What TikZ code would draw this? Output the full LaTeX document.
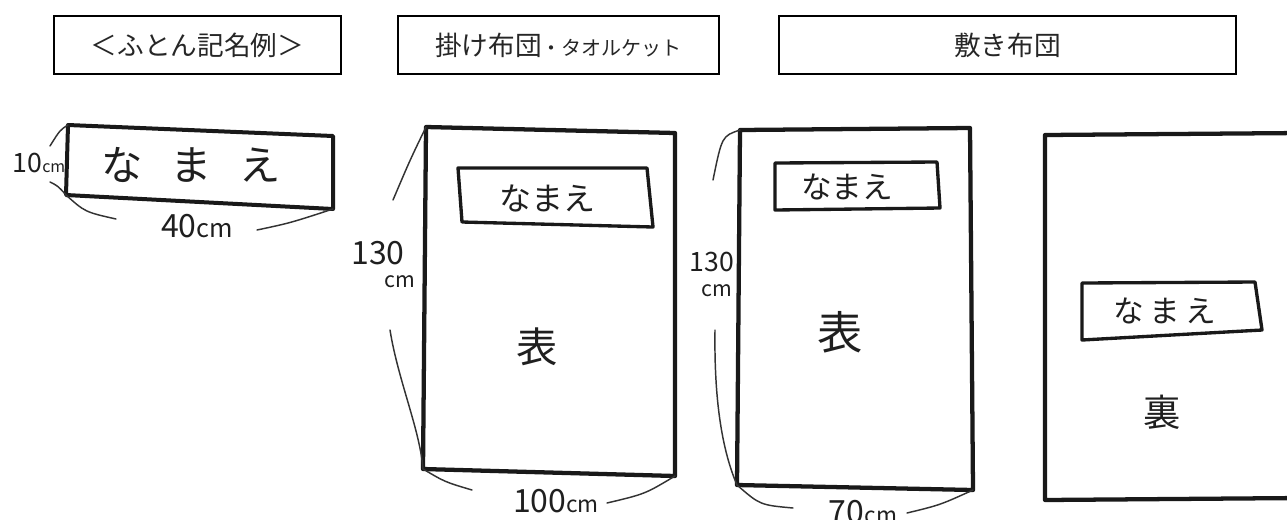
\documentclass[tikz,border=0pt]{standalone}
\usepackage{fontspec}
\setmainfont{Noto Sans CJK JP}
\newcommand{\fs}[1]{\fontsize{#1}{#1}\selectfont}
\begin{document}
\begin{tikzpicture}[x=0.75pt,y=-0.75pt,
  hdr/.style={draw=black, line width=0.9pt, minimum height=43.5pt, inner sep=0pt, font=\fs{20}, text=black!85},
  outl/.style={draw=black!90, line width=3.2pt, line join=round, line cap=round},
  tagl/.style={draw=black!90, line width=2.5pt, line join=round, line cap=round},
  diml/.style={draw=black!80, line width=1.1pt, line cap=round},
  hw/.style={inner sep=0pt, text=black!88}]
\clip (0,0) rectangle (1287,519);
\useasboundingbox (0,0) rectangle (1287,519);

% header boxes
\node[hdr, minimum width=215.25pt] (h1) at (197.5,45) {＜ふとん記名例＞\hspace{17pt}};
\node[hdr, minimum width=240.75pt] (h2) at (558.5,45) {掛け布団{\fs{15}・タオルケット}\hspace{6.75pt}};
\node[hdr, minimum width=342.75pt] (h3) at (1007.5,45) {敷き布団};

% ---------- small name tag ----------
\coordinate (s1) at (68,125);
\coordinate (s2) at (333,136);
\coordinate (s3) at (333,209);
\coordinate (s4) at (66,195);
\draw[outl, line width=3pt] (s1) -- (s2) -- (s3) -- (s4) -- cycle;
\node[hw, font=\fs{31}] (sn) at (191,165) {な\hspace{21pt}ま\hspace{21pt}え};
\node[hw, anchor=base] (s10) at (39,172) {{\fs{20}10}{\fs{12}cm}};
\node[hw, anchor=base] (s40) at (197,237) {{\fs{24}40}{\fs{19}cm}};
\coordinate (sa) at (50,146);
\coordinate (sb) at (50,182);
\coordinate (sc) at (116,219);
\coordinate (sd) at (257,230);
\draw[diml] (s1) .. controls (60,130) .. (sa);
\draw[diml] (sb) .. controls (58,186) .. (s4);
\draw[diml] (s4) .. controls (85,212) .. (sc);
\draw[diml] (sd) .. controls (290,223) .. (s3);

% ---------- kakebuton ----------
\coordinate (k1) at (426,127);
\coordinate (k2) at (675,133);
\coordinate (k3) at (675,476);
\coordinate (k4) at (423,469);
\draw[outl] (k1) -- (k2) -- (k3) -- (k4) -- cycle;
\coordinate (kt1) at (458,168);
\coordinate (kt2) at (647,168);
\coordinate (kt3) at (653,227);
\coordinate (kt4) at (462,222);
\draw[tagl] (kt1) -- (kt2) -- (kt3) -- (kt4) -- cycle;
\node[hw, font=\fs{24}] (kn) at (547,198) {なまえ};
\node[hw, font=\fs{31}] (ko) at (537,347) {表};
\node[hw, anchor=base] (k130) at (378,264) {\fs{24}130};
\node[hw, anchor=base] (kcm) at (400,287) {\fs{16}cm};
\node[hw, anchor=base] (k100) at (556,512) {{\fs{24}100}{\fs{17}cm}};
\coordinate (ka) at (393,200);
\coordinate (kb) at (390,330);
\coordinate (kc) at (472,490);
\coordinate (kd) at (607,503);
\draw[diml] (k1) .. controls (410,160) .. (ka);
\draw[diml] (kb) .. controls (398,380) and (420,430) .. (k4);
\draw[diml] (k4) .. controls (445,482) .. (kc);
\draw[diml] (kd) .. controls (645,494) .. (k3);

% ---------- shikibuton omote ----------
\coordinate (f1) at (740,130);
\coordinate (f2) at (970,128);
\coordinate (f3) at (973,490);
\coordinate (f4) at (737,485);
\draw[outl] (f1) -- (f2) -- (f3) -- (f4) -- cycle;
\coordinate (ft1) at (775,163);
\coordinate (ft2) at (937,162);
\coordinate (ft3) at (940,208);
\coordinate (ft4) at (775,210);
\draw[tagl] (ft1) -- (ft2) -- (ft3) -- (ft4) -- cycle;
\node[hw, font=\fs{23}] (fn) at (847,187) {なまえ};
\node[hw, font=\fs{34}] (fo) at (840,332) {表};
\node[hw, anchor=base] (f130) at (712,271) {\fs{20}130};
\node[hw, anchor=base] (fcm) at (717,296) {\fs{16}cm};
\node[hw, anchor=base] (f70) at (863,523) {{\fs{24}70}{\fs{17}cm}};
\coordinate (fa) at (713,180);
\coordinate (fb) at (715,330);
\coordinate (fc) at (793,508);
\coordinate (fd) at (907,513);
\draw[diml] (f1) .. controls (722,136) .. (fa);
\draw[diml] (fb) .. controls (714,400) and (722,450) .. (f4);
\draw[diml] (f4) .. controls (760,505) .. (fc);
\draw[diml] (fd) .. controls (940,505) .. (f3);

% ---------- shikibuton ura ----------
\coordinate (u1) at (1045,135);
\coordinate (u2) at (1300,133);
\coordinate (u3) at (1300,498);
\coordinate (u4) at (1045,500);
\draw[outl] (u2) -- (u1) -- (u4) -- (u3);
\coordinate (ut1) at (1082,283);
\coordinate (ut2) at (1255,282);
\coordinate (ut3) at (1262,330);
\coordinate (ut4) at (1082,340);
\draw[tagl] (ut1) -- (ut2) -- (ut3) -- (ut4) -- cycle;
\node[hw, font=\fs{23}] (un) at (1165,311) {な\hspace{4pt}ま\hspace{4pt}え};
\node[hw, font=\fs{28}] (uu) at (1162,412) {裏};
\end{tikzpicture}
\end{document}
